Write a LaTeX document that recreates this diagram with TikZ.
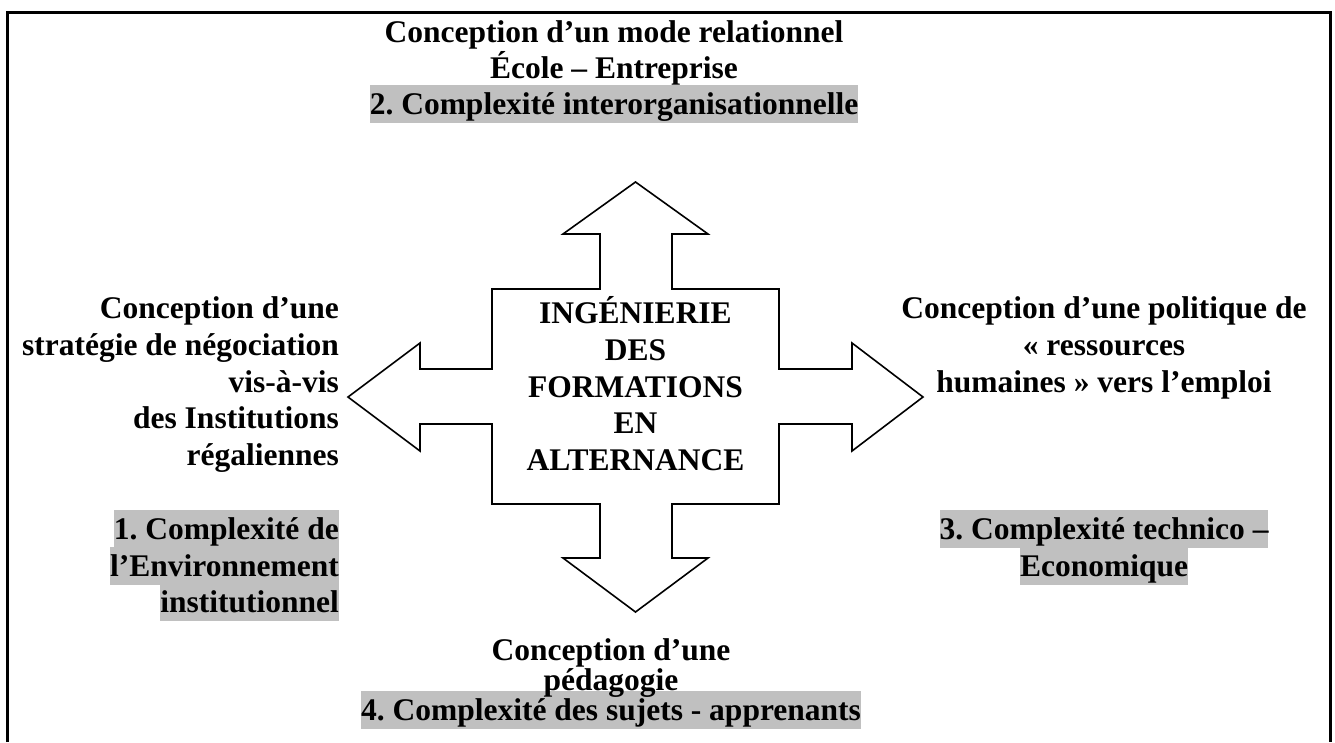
\documentclass[tikz,border=0pt]{standalone}
\usepackage{fontspec}
\setmainfont{Liberation Serif}
\definecolor{hlgray}{RGB}{192,192,192}
\frenchspacing
\begin{document}
\begin{tikzpicture}[x=1pt,y=-1pt,
  lbl/.style={font=\fontsize{31.5}{36.8}\selectfont\bfseries, inner sep=0pt},
  hl/.style={lbl, fill=hlgray, text height=29pt, text depth=8.5pt},
  frameline/.style={line width=3pt},
  arrowshape/.style={line width=1.6pt, line join=miter}]
\useasboundingbox (0,0) rectangle (1335,742);

% open frame (no bottom edge)
\draw[frameline] (7,742) -- (7,12) -- (1330,12) -- (1330,742);

% four-way arrow around the central square
\coordinate (c) at (635.5,397);
\draw[arrowshape]
  (635.5,182) -- (708,234) -- (672,234) -- (672,289) -- (779,289) -- (779,369)
  -- (852,369) -- (852,343) -- (923,397) -- (852,451) -- (852,424) -- (779,424)
  -- (779,504) -- (672,504) -- (672,558) -- (708,558) -- (635.5,612) -- (563,558)
  -- (600,558) -- (600,504) -- (492,504) -- (492,424) -- (420,424) -- (420,451)
  -- (348,397) -- (420,343) -- (420,369) -- (492,369) -- (492,289) -- (600,289)
  -- (600,234) -- (563,234) -- cycle;

% centre
\node[lbl, anchor=base] (c1) at (635.5,323) {INGÉNIERIE};
\node[lbl, anchor=base] (c2) at (635.5,360) {DES};
\node[lbl, anchor=base] (c3) at (635.5,397) {FORMATIONS};
\node[lbl, anchor=base] (c4) at (635.5,433) {EN};
\node[lbl, anchor=base] (c5) at (635.5,470) {ALTERNANCE};

% top
\node[lbl, anchor=base] (t1) at (614,42) {Conception d’un mode relationnel};
\node[lbl, anchor=base] (t2) at (614,78) {École – Entreprise};
\node[hl, anchor=base] (t3) at (614,114) {2. Complexité interorganisationnelle};

% left
\node[lbl, anchor=base east] (l1) at (339,318) {Conception d’une};
\node[lbl, anchor=base east] (l2) at (339,355) {stratégie de négociation};
\node[lbl, anchor=base east] (l3) at (339,392) {vis-à-vis};
\node[lbl, anchor=base east] (l4) at (339,428) {des Institutions};
\node[lbl, anchor=base east] (l5) at (339,465) {régaliennes};
\node[hl, anchor=base east] (l6) at (339,539) {1. Complexité de};
\node[hl, anchor=base east] (l7) at (339,576) {l’Environnement};
\node[hl, anchor=base east] (l8) at (339,612) {institutionnel};

% right
\node[lbl, anchor=base] (r1) at (1104,318) {Conception d’une politique de};
\node[lbl, anchor=base] (r2) at (1104,355) {«~ressources};
\node[lbl, anchor=base] (r3) at (1104,392) {humaines~» vers l’emploi};
\node[hl, anchor=base] (r4) at (1104,539) {3. Complexité technico –};
\node[hl, anchor=base] (r5) at (1104,576) {Economique};

% bottom
\node[hl, anchor=base] (b3) at (611,720) {4. Complexité des sujets - apprenants};
\node[lbl, anchor=base] (b1) at (611,660) {Conception d’une};
\node[lbl, anchor=base] (b2) at (611,690) {pédagogie};
\end{tikzpicture}
\end{document}
